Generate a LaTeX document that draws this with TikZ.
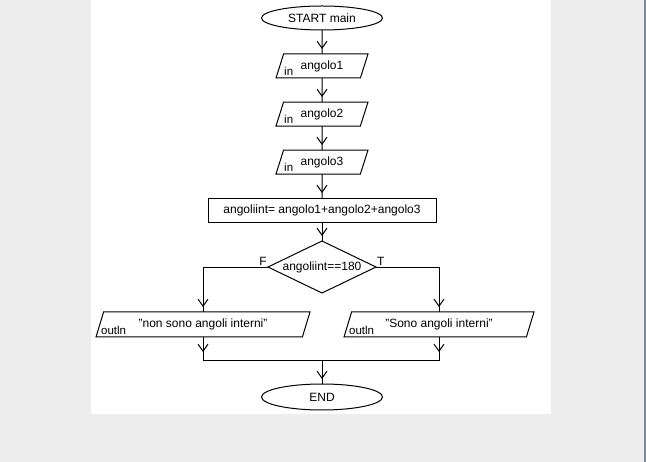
\documentclass[tikz,border=0pt]{standalone}
\usepackage{fontspec}
\setmainfont{Liberation Sans}
\usetikzlibrary{shapes.geometric, arrows.meta, positioning, calc, decorations.markings}
\definecolor{panel-grey}{RGB}{237,237,237}
\definecolor{frame-edge}{RGB}{122,138,153}

\begin{document}
\begin{tikzpicture}[
    x=1pt, y=-1pt,
    node distance=24pt,
    every node/.style={font=\fontsize{12}{14}\selectfont},
    term/.style={ellipse, draw, line width=1pt, outer sep=0pt, minimum width=121pt, minimum height=24pt, inner sep=0pt},
    io/.style={trapezium, trapezium left angle=63.4, trapezium right angle=116.6, trapezium stretches body, draw, line width=1pt, outer sep=0pt, minimum height=24pt, inner sep=2pt},
    proc/.style={rectangle, draw, line width=1pt, outer sep=0pt, minimum width=228pt, minimum height=24pt},
    cond/.style={diamond, aspect=2, draw, line width=1pt, outer sep=0pt, minimum width=108pt, minimum height=52pt, inner sep=0pt},
    tag/.style={font=\fontsize{11.5}{13}\selectfont, inner sep=0pt},
    flow/.style={line width=1pt, postaction={decorate, decoration={markings, mark=at position #1 with {\arrow{Straight Barb[length=7pt, width=10pt]}}}}},
    flow/.default=-5pt
]
\useasboundingbox (0,0) rectangle (646,462);

% Window background
\fill[panel-grey] (0,0) rectangle (646,462);
\fill[white] (91,0) rectangle (551,414);
\draw[frame-edge, line width=1.5pt] (645,0) -- (645,462);

% Start and inputs
\node[term] (start) at (322,18) {START main};
\node[io, minimum width=92pt, below=of start] (in1) {angolo1};
\node[tag, above right=2pt and 8pt of in1.bottom left corner] (tag1) {in};

\node[io, minimum width=92pt, below=of in1] (in2) {angolo2};
\node[tag, above right=2pt and 8pt of in2.bottom left corner] (tag2) {in};

\node[io, minimum width=92pt, below=of in2] (in3) {angolo3};
\node[tag, above right=2pt and 8pt of in3.bottom left corner] (tag3) {in};

% Sum and test
\node[proc, below=of in3] (sum) {angoliint= angolo1+angolo2+angolo3};
\node[cond, below=19pt of sum] (test) {angoliint==180};
\node[anchor=south east, inner sep=1pt] (lblF) at (test.west) {F};
\node[anchor=south west, inner sep=1pt] (lblT) at (test.east) {T};

% Outputs
\node[io, minimum width=214pt, minimum height=25pt] (outF) at (203,324.5) {"non sono angoli interni"};
\node[tag, above right=2pt and 5pt of outF.bottom left corner] (tag4) {outln};

\node[io, minimum width=190pt, minimum height=25pt] (outT) at (439,324.5) {"Sono angoli interni"};
\node[tag, above right=2pt and 5pt of outT.bottom left corner] (tag5) {outln};

% End
\coordinate (join) at (322,361);
\node[term, minimum height=26pt, below=23pt of join] (end) {END};

% Arrows
\draw[flow] (start) -- (in1);
\draw[flow] (in1) -- (in2);
\draw[flow] (in2) -- (in3);
\draw[flow] (in3) -- (sum);
\draw[flow] (sum) -- (test);
\draw[flow] (test.west) -| (outF.north);
\draw[flow] (test.east) -| (outT.north);
\draw[flow=-9pt] (outF.south) -- (outF.south |- join);
\draw[flow=-9pt] (outT.south) -- (outT.south |- join);
\draw[line width=1pt] (outF.south |- join) -- (outT.south |- join);
\draw[flow] (join) -- (end);

\end{tikzpicture}
\end{document}
